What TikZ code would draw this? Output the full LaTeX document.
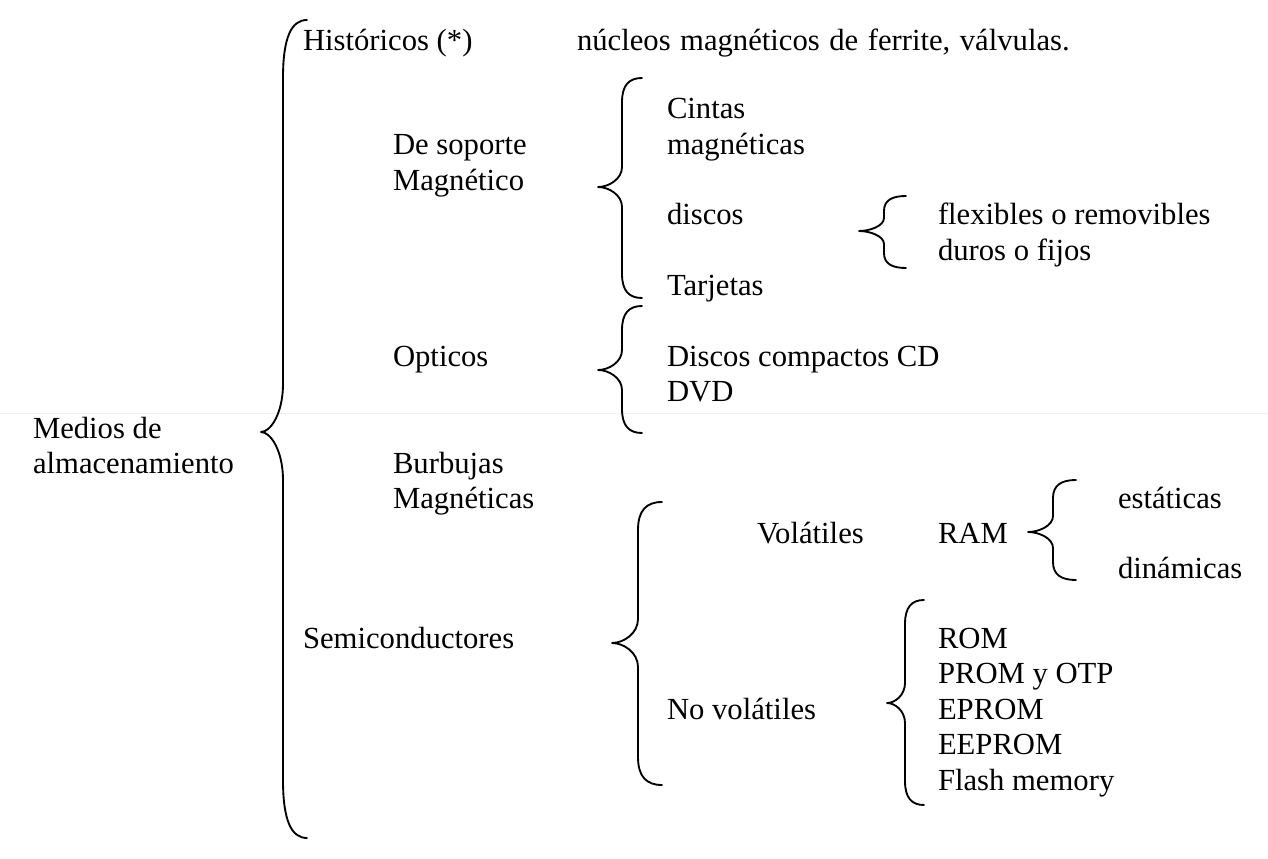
\documentclass[tikz,border=0pt]{standalone}
\usepackage{fontspec}
\setmainfont{Liberation Serif}
% #1 x of the ends, #2 x of the vertical, #3 x of the point,
% #4 y top, #5 y point, #6 y bottom, #7 end curve height, #8 middle curve height
\newcommand\mybrace[8]{%
  \draw[bracestyle] (#1,#4)
    .. controls ({#2+0.35*(#1-#2)},#4) and (#2,{#4+0.3*#7}) .. (#2,{#4+#7})
    -- (#2,{#5-#8})
    .. controls (#2,{#5-0.4*#8}) and ({#3+0.45*(#2-#3)},#5) .. (#3,#5)
    .. controls ({#3+0.45*(#2-#3)},#5) and (#2,{#5+0.4*#8}) .. (#2,{#5+#8})
    -- (#2,{#6-#7})
    .. controls (#2,{#6-0.3*#7}) and ({#2+0.35*(#1-#2)},#6) .. (#1,#6);}
\begin{document}
\begin{tikzpicture}[x=0.75pt,y=-0.75pt,
  bracestyle/.style={line width=1.4pt,line cap=round,line join=round},
  lbl/.style={anchor=base west,inner sep=0pt,outer sep=0pt,font=\fontsize{23}{27}\selectfont}]
\useasboundingbox (0,0) rectangle (1268,859);
\draw[black!6,line width=0.6pt] (0,413) -- (1268,413);
% braces
\mybrace{307}{283}{261}{20}{432}{838}{58}{48}
\mybrace{642}{622}{598}{78}{187}{298}{24}{20}
\mybrace{642}{622}{598}{306}{370}{433}{24}{20}
\mybrace{906}{884}{859}{196}{231}{268}{15}{13}
\mybrace{1076}{1053}{1028}{480}{532}{580}{18}{16}
\mybrace{662}{638}{612}{502}{643}{785}{28}{24}
\mybrace{924}{905}{887}{600}{703}{805}{24}{20}
% texts
\node[lbl] (hist) at (303,51) {Históricos (*)};
\node[lbl] (nuc) at (577,51) {\spaceskip=0.31em\relax núcleos magnéticos de ferrite, válvulas.};
\node[lbl] (sop1) at (393,155) {De soporte};
\node[lbl] (sop2) at (393,191) {Magnético};
\node[lbl] (cin1) at (667,119) {Cintas};
\node[lbl] (cin2) at (667,155) {magnéticas};
\node[lbl] (disc) at (667,225) {discos};
\node[lbl] (flex) at (938,225) {flexibles o removibles};
\node[lbl] (duro) at (938,261) {duros o fijos};
\node[lbl] (tarj) at (667,296) {Tarjetas};
\node[lbl] (opt) at (393,367) {Opticos};
\node[lbl] (cd) at (667,367) {Discos compactos CD};
\node[lbl] (dvd) at (667,402) {DVD};
\node[lbl] (med1) at (33,438) {Medios de};
\node[lbl] (med2) at (33,473) {almacenamiento};
\node[lbl] (bur1) at (393,473) {Burbujas};
\node[lbl] (bur2) at (393,508) {Magnéticas};
\node[lbl] (vol) at (757,543) {Volátiles};
\node[lbl] (ram) at (938,543) {RAM};
\node[lbl] (est) at (1118,508) {estáticas};
\node[lbl] (din) at (1118,578) {dinámicas};
\node[lbl] (semi) at (303,648) {Semiconductores};
\node[lbl] (novol) at (667,719) {No volátiles};
\node[lbl] (rom) at (938,648) {ROM};
\node[lbl] (prom) at (938,683.5) {PROM y OTP};
\node[lbl] (eprom) at (938,719) {EPROM};
\node[lbl] (eeprom) at (938,754.5) {EEPROM};
\node[lbl] (flash) at (938,790) {Flash memory};
\end{tikzpicture}
\end{document}
